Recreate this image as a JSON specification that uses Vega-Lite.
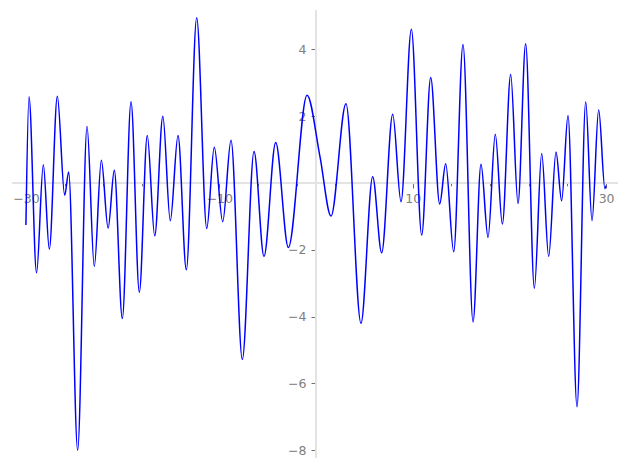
{
  "$schema": "https://vega.github.io/schema/vega-lite/v6.json",
  "width": 627,
  "height": 469,
  "padding": 0,
  "autosize": {"type": "none"},
  "background": "white",
  "config": {"view": {"stroke": null}},
  "data": {"values": [
    {"x": -30, "y": -1.26},
    {"x": -29.68, "y": 2.58},
    {"x": -28.9, "y": -2.69},
    {"x": -28.2, "y": 0.55},
    {"x": -27.58, "y": -1.98},
    {"x": -26.75, "y": 2.6},
    {"x": -25.99, "y": -0.37},
    {"x": -25.58, "y": 0.33},
    {"x": -24.65, "y": -8.0},
    {"x": -23.68, "y": 1.69},
    {"x": -22.93, "y": -2.5},
    {"x": -22.2, "y": 0.68},
    {"x": -21.5, "y": -1.35},
    {"x": -20.86, "y": 0.38},
    {"x": -20.03, "y": -4.06},
    {"x": -19.13, "y": 2.43},
    {"x": -18.27, "y": -3.27},
    {"x": -17.45, "y": 1.42},
    {"x": -16.68, "y": -1.58},
    {"x": -15.84, "y": 2.0},
    {"x": -15.07, "y": -1.13},
    {"x": -14.27, "y": 1.42},
    {"x": -13.41, "y": -2.6},
    {"x": -12.34, "y": 4.95},
    {"x": -11.3, "y": -1.36},
    {"x": -10.52, "y": 1.07},
    {"x": -9.65, "y": -1.16},
    {"x": -8.79, "y": 1.28},
    {"x": -7.62, "y": -5.28},
    {"x": -6.41, "y": 0.94},
    {"x": -5.38, "y": -2.2},
    {"x": -4.17, "y": 1.21},
    {"x": -2.86, "y": -1.93},
    {"x": -0.93, "y": 2.63},
    {"x": 0.41, "y": 0.79},
    {"x": 1.55, "y": -0.99},
    {"x": 3.1, "y": 2.37},
    {"x": 4.65, "y": -4.2},
    {"x": 5.86, "y": 0.19},
    {"x": 6.79, "y": -2.09},
    {"x": 7.93, "y": 2.06},
    {"x": 8.79, "y": -0.56},
    {"x": 9.86, "y": 4.6},
    {"x": 10.93, "y": -1.56},
    {"x": 11.86, "y": 3.16},
    {"x": 12.79, "y": -0.63},
    {"x": 13.41, "y": 0.58},
    {"x": 14.24, "y": -2.06},
    {"x": 15.2, "y": 4.15},
    {"x": 16.24, "y": -4.16},
    {"x": 17.06, "y": 0.56},
    {"x": 17.79, "y": -1.63},
    {"x": 18.54, "y": 1.46},
    {"x": 19.27, "y": -1.23},
    {"x": 20.13, "y": 3.25},
    {"x": 20.89, "y": -0.61},
    {"x": 21.68, "y": 4.17},
    {"x": 22.58, "y": -3.15},
    {"x": 23.34, "y": 0.88},
    {"x": 24.06, "y": -2.2},
    {"x": 24.82, "y": 0.93},
    {"x": 25.4, "y": -0.53},
    {"x": 26.06, "y": 2.02},
    {"x": 26.99, "y": -6.7},
    {"x": 27.89, "y": 2.43},
    {"x": 28.54, "y": -1.13},
    {"x": 29.23, "y": 2.19},
    {"x": 29.88, "y": -0.17},
    {"x": 30, "y": -0.08}
  ]},
  "layer": [
    {
      "mark": {"type": "rule", "color": "#e3e3e3", "strokeWidth": 2},
      "encoding": {
        "x": {"datum": -31.35, "type": "quantitative"},
        "x2": {"datum": 31.2},
        "y": {"datum": 0, "type": "quantitative"}
      }
    },
    {
      "mark": {"type": "rule", "color": "#e3e3e3", "strokeWidth": 2},
      "encoding": {
        "x": {"datum": 0, "type": "quantitative"},
        "y": {"datum": 5.18, "type": "quantitative"},
        "y2": {"datum": -8.23}
      }
    },
    {
      "mark": {"type": "line", "interpolate": "monotone", "color": "#0000ff", "strokeWidth": 1.5},
      "encoding": {
        "x": {
          "field": "x",
          "type": "quantitative",
          "scale": {"domain": [-32.68, 32.16], "nice": false, "zero": false},
          "axis": {
            "title": null,
            "domain": false,
            "grid": false,
            "values": [-30,-28,-26,-24,-22,-20,-18,-16,-14,-12,-10,-8,-6,-4,-2,0,2,4,6,8,10,12,14,16,18,20,22,24,26,28,30],
            "offset": {"expr": "scale('y', 0) - height"},
            "tickColor": "#707070",
            "tickWidth": 1,
            "tickSize": {"condition": {"test": "datum.value % 10 === 0", "value": 5}, "value": 2.8},
            "labelExpr": "datum.value % 10 === 0 && datum.value !== 0 ? datum.label : ''",
            "labelFont": "DejaVu Sans",
            "labelFontSize": 12.5,
            "labelColor": "#808080",
            "labelPadding": 5,
            "labelOverlap": false,
            "labelFlush": false
          }
        },
        "y": {
          "field": "y",
          "type": "quantitative",
          "scale": {"domain": [-8.563, 5.479], "nice": false, "zero": false},
          "axis": {
            "title": null,
            "domain": false,
            "grid": false,
            "values": [-8,-7.5,-7,-6.5,-6,-5.5,-5,-4.5,-4,-3.5,-3,-2.5,-2,-1.5,-1,-0.5,0,0.5,1,1.5,2,2.5,3,3.5,4,4.5,5],
            "offset": {"expr": "-scale('x', 0)"},
            "tickColor": "#707070",
            "tickWidth": 1,
            "tickSize": {"condition": {"test": "datum.value % 2 === 0", "value": 5}, "value": 2.8},
            "labelExpr": "datum.value % 2 === 0 && datum.value !== 0 ? datum.label : ''",
            "labelFont": "DejaVu Sans",
            "labelFontSize": 12.5,
            "labelColor": "#808080",
            "labelPadding": 5,
            "labelOverlap": false,
            "labelFlush": false
          }
        }
      }
    }
  ]
}
